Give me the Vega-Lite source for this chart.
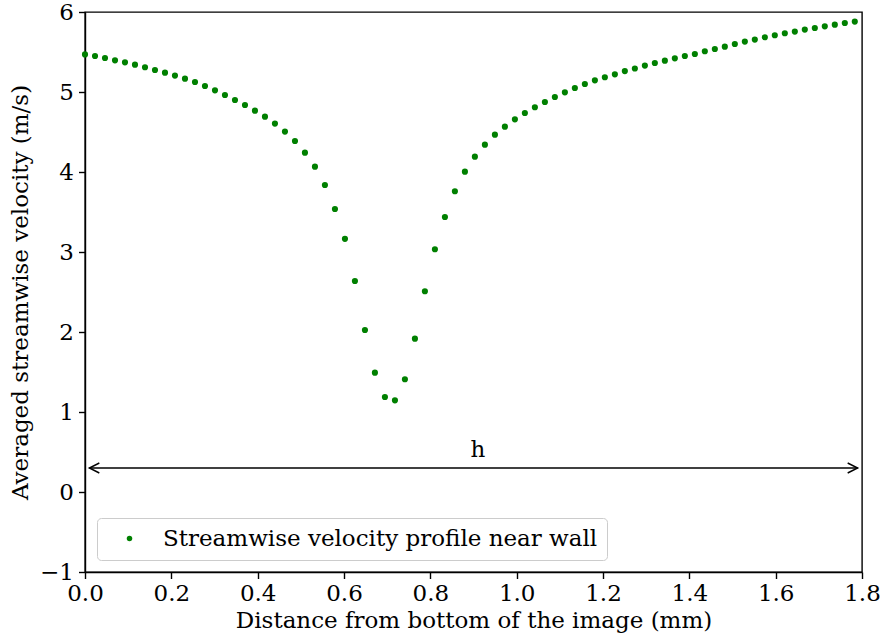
{
  "$schema": "https://vega.github.io/schema/vega-lite/v6.json",
  "autosize": "none",
  "width": 777,
  "height": 560,
  "padding": {"left": 85, "top": 12, "right": 22, "bottom": 68},
  "background": "white",
  "config": {
    "font": "DejaVu Serif",
    "view": {"stroke": "black", "strokeWidth": 1.4},
    "axis": {
      "labelFont": "DejaVu Serif",
      "titleFont": "DejaVu Serif",
      "labelFontSize": 23,
      "titleFontSize": 23,
      "titleFontWeight": "normal",
      "labelColor": "black",
      "titleColor": "black",
      "domainColor": "black",
      "tickColor": "black",
      "tickSize": 6.5,
      "tickWidth": 1.4,
      "domainWidth": 1.4,
      "grid": false
    },
    "legend": {
      "labelFontSize": 23,
      "labelColor": "black"
    }
  },
  "datasets": {
    "profile": [
      {"x": 0.0, "v": 5.47, "series": "Streamwise velocity profile near wall"},
      {"x": 0.0232, "v": 5.45, "series": "Streamwise velocity profile near wall"},
      {"x": 0.0463, "v": 5.425, "series": "Streamwise velocity profile near wall"},
      {"x": 0.0695, "v": 5.396, "series": "Streamwise velocity profile near wall"},
      {"x": 0.0926, "v": 5.371, "series": "Streamwise velocity profile near wall"},
      {"x": 0.1158, "v": 5.342, "series": "Streamwise velocity profile near wall"},
      {"x": 0.139, "v": 5.309, "series": "Streamwise velocity profile near wall"},
      {"x": 0.1621, "v": 5.275, "series": "Streamwise velocity profile near wall"},
      {"x": 0.1853, "v": 5.242, "series": "Streamwise velocity profile near wall"},
      {"x": 0.2084, "v": 5.205, "series": "Streamwise velocity profile near wall"},
      {"x": 0.2316, "v": 5.167, "series": "Streamwise velocity profile near wall"},
      {"x": 0.2548, "v": 5.125, "series": "Streamwise velocity profile near wall"},
      {"x": 0.2779, "v": 5.075, "series": "Streamwise velocity profile near wall"},
      {"x": 0.3011, "v": 5.021, "series": "Streamwise velocity profile near wall"},
      {"x": 0.3242, "v": 4.963, "series": "Streamwise velocity profile near wall"},
      {"x": 0.3474, "v": 4.9, "series": "Streamwise velocity profile near wall"},
      {"x": 0.3706, "v": 4.838, "series": "Streamwise velocity profile near wall"},
      {"x": 0.3937, "v": 4.767, "series": "Streamwise velocity profile near wall"},
      {"x": 0.4169, "v": 4.692, "series": "Streamwise velocity profile near wall"},
      {"x": 0.44, "v": 4.605, "series": "Streamwise velocity profile near wall"},
      {"x": 0.4632, "v": 4.505, "series": "Streamwise velocity profile near wall"},
      {"x": 0.4864, "v": 4.388, "series": "Streamwise velocity profile near wall"},
      {"x": 0.5095, "v": 4.242, "series": "Streamwise velocity profile near wall"},
      {"x": 0.5327, "v": 4.067, "series": "Streamwise velocity profile near wall"},
      {"x": 0.5558, "v": 3.838, "series": "Streamwise velocity profile near wall"},
      {"x": 0.579, "v": 3.538, "series": "Streamwise velocity profile near wall"},
      {"x": 0.6022, "v": 3.165, "series": "Streamwise velocity profile near wall"},
      {"x": 0.6253, "v": 2.638, "series": "Streamwise velocity profile near wall"},
      {"x": 0.6485, "v": 2.025, "series": "Streamwise velocity profile near wall"},
      {"x": 0.6716, "v": 1.492, "series": "Streamwise velocity profile near wall"},
      {"x": 0.6948, "v": 1.188, "series": "Streamwise velocity profile near wall"},
      {"x": 0.718, "v": 1.146, "series": "Streamwise velocity profile near wall"},
      {"x": 0.7411, "v": 1.409, "series": "Streamwise velocity profile near wall"},
      {"x": 0.7643, "v": 1.917, "series": "Streamwise velocity profile near wall"},
      {"x": 0.7874, "v": 2.509, "series": "Streamwise velocity profile near wall"},
      {"x": 0.8106, "v": 3.034, "series": "Streamwise velocity profile near wall"},
      {"x": 0.8338, "v": 3.438, "series": "Streamwise velocity profile near wall"},
      {"x": 0.8569, "v": 3.759, "series": "Streamwise velocity profile near wall"},
      {"x": 0.8801, "v": 4.004, "series": "Streamwise velocity profile near wall"},
      {"x": 0.9032, "v": 4.192, "series": "Streamwise velocity profile near wall"},
      {"x": 0.9264, "v": 4.342, "series": "Streamwise velocity profile near wall"},
      {"x": 0.9496, "v": 4.467, "series": "Streamwise velocity profile near wall"},
      {"x": 0.9727, "v": 4.567, "series": "Streamwise velocity profile near wall"},
      {"x": 0.9959, "v": 4.658, "series": "Streamwise velocity profile near wall"},
      {"x": 1.019, "v": 4.738, "series": "Streamwise velocity profile near wall"},
      {"x": 1.0422, "v": 4.809, "series": "Streamwise velocity profile near wall"},
      {"x": 1.0654, "v": 4.875, "series": "Streamwise velocity profile near wall"},
      {"x": 1.0885, "v": 4.938, "series": "Streamwise velocity profile near wall"},
      {"x": 1.1117, "v": 4.996, "series": "Streamwise velocity profile near wall"},
      {"x": 1.1348, "v": 5.05, "series": "Streamwise velocity profile near wall"},
      {"x": 1.158, "v": 5.1, "series": "Streamwise velocity profile near wall"},
      {"x": 1.1812, "v": 5.146, "series": "Streamwise velocity profile near wall"},
      {"x": 1.2043, "v": 5.184, "series": "Streamwise velocity profile near wall"},
      {"x": 1.2275, "v": 5.221, "series": "Streamwise velocity profile near wall"},
      {"x": 1.2506, "v": 5.261, "series": "Streamwise velocity profile near wall"},
      {"x": 1.2738, "v": 5.294, "series": "Streamwise velocity profile near wall"},
      {"x": 1.297, "v": 5.33, "series": "Streamwise velocity profile near wall"},
      {"x": 1.3201, "v": 5.363, "series": "Streamwise velocity profile near wall"},
      {"x": 1.3433, "v": 5.392, "series": "Streamwise velocity profile near wall"},
      {"x": 1.3664, "v": 5.421, "series": "Streamwise velocity profile near wall"},
      {"x": 1.3896, "v": 5.45, "series": "Streamwise velocity profile near wall"},
      {"x": 1.4128, "v": 5.475, "series": "Streamwise velocity profile near wall"},
      {"x": 1.4359, "v": 5.509, "series": "Streamwise velocity profile near wall"},
      {"x": 1.4591, "v": 5.538, "series": "Streamwise velocity profile near wall"},
      {"x": 1.4822, "v": 5.567, "series": "Streamwise velocity profile near wall"},
      {"x": 1.5054, "v": 5.6, "series": "Streamwise velocity profile near wall"},
      {"x": 1.5286, "v": 5.63, "series": "Streamwise velocity profile near wall"},
      {"x": 1.5517, "v": 5.655, "series": "Streamwise velocity profile near wall"},
      {"x": 1.5749, "v": 5.684, "series": "Streamwise velocity profile near wall"},
      {"x": 1.598, "v": 5.709, "series": "Streamwise velocity profile near wall"},
      {"x": 1.6212, "v": 5.734, "series": "Streamwise velocity profile near wall"},
      {"x": 1.6444, "v": 5.755, "series": "Streamwise velocity profile near wall"},
      {"x": 1.6675, "v": 5.78, "series": "Streamwise velocity profile near wall"},
      {"x": 1.6907, "v": 5.8, "series": "Streamwise velocity profile near wall"},
      {"x": 1.7138, "v": 5.821, "series": "Streamwise velocity profile near wall"},
      {"x": 1.737, "v": 5.842, "series": "Streamwise velocity profile near wall"},
      {"x": 1.7602, "v": 5.863, "series": "Streamwise velocity profile near wall"},
      {"x": 1.7833, "v": 5.88, "series": "Streamwise velocity profile near wall"}
    ],
    "arrow": [{"xs": 0.01, "xe": 1.79, "v": 0.3}],
    "heads": [
      {"x": 0.01, "v": 0.3, "dir": "left"},
      {"x": 1.79, "v": 0.3, "dir": "right"}
    ],
    "label": [{"x": 0.91, "v": 0.53, "txt": "h"}]
  },
  "layer": [
    {
      "data": {"name": "profile"},
      "mark": {"type": "circle", "size": 38, "opacity": 1},
      "encoding": {
        "x": {
          "field": "x",
          "type": "quantitative",
          "scale": {"domain": [0, 1.8], "nice": false, "zero": false},
          "axis": {"values": [0, 0.2, 0.4, 0.6, 0.8, 1.0, 1.2, 1.4, 1.6, 1.8], "format": ".1f", "labelPadding": 4, "titlePadding": 4, "title": "Distance from bottom of the image (mm)", "labelFlush": false}
        },
        "y": {
          "field": "v",
          "type": "quantitative",
          "scale": {"domain": [-1, 6], "nice": false, "zero": false},
          "axis": {"values": [-1, 0, 1, 2, 3, 4, 5, 6], "format": "d", "labelPadding": 5, "titlePadding": 7, "title": "Averaged streamwise velocity (m/s)", "labelFlush": false}
        },
        "color": {
          "field": "series",
          "type": "nominal",
          "scale": {"range": ["#008000"]},
          "legend": {
            "title": null,
            "orient": "none",
            "legendX": 12,
            "legendY": 506,
            "padding": 9,
            "strokeColor": "#cccccc",
            "cornerRadius": 4,
            "fillColor": "#ffffff",
            "labelFontSize": 23,
            "labelColor": "black",
            "symbolType": "circle",
            "symbolSize": 30,
            "symbolOffset": 12,
            "labelOffset": 22,
            "labelLimit": 700,
            "encode": {"labels": {"update": {"font": {"signal": "'DejaVu Serif'"}}}}
          }
        }
      }
    },
    {
      "data": {"name": "arrow"},
      "mark": {"type": "rule", "color": "black", "strokeWidth": 1.4},
      "encoding": {
        "x": {"field": "xs", "type": "quantitative"},
        "x2": {"field": "xe"},
        "y": {"field": "v", "type": "quantitative"}
      }
    },
    {
      "data": {"name": "heads"},
      "mark": {"type": "point", "filled": false, "stroke": "black", "strokeWidth": 1.4, "size": 400, "opacity": 1},
      "encoding": {
        "x": {"field": "x", "type": "quantitative"},
        "y": {"field": "v", "type": "quantitative"},
        "shape": {
          "field": "dir",
          "type": "nominal",
          "scale": {"domain": ["left", "right"], "range": ["M1,-0.5L0,0L1,0.5", "M-1,-0.5L0,0L-1,0.5"]},
          "legend": null
        }
      }
    },
    {
      "data": {"name": "label"},
      "mark": {"type": "text", "font": "DejaVu Serif", "fontSize": 23, "color": "black", "baseline": "middle", "align": "center"},
      "encoding": {
        "x": {"field": "x", "type": "quantitative"},
        "y": {"field": "v", "type": "quantitative"},
        "text": {"field": "txt"}
      }
    }
  ]
}
